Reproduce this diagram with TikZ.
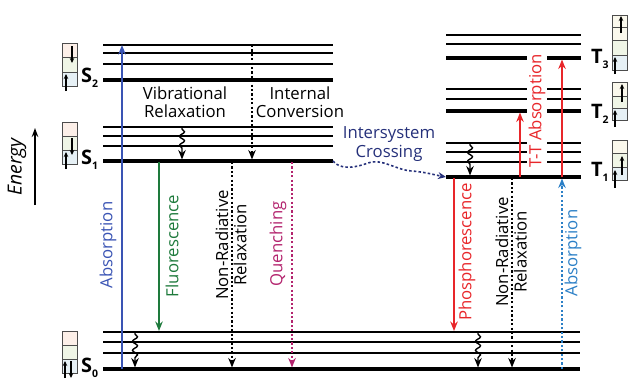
\documentclass[tikz,border=0pt]{standalone}
\usepackage{fontspec}
\setmainfont{Open Sans}
\usetikzlibrary{arrows.meta,decorations.pathmorphing}
\definecolor{absblue}{RGB}{58,84,180}
\definecolor{fgreen}{RGB}{30,122,60}
\definecolor{quench}{RGB}{179,36,110}
\definecolor{pred}{RGB}{232,38,42}
\definecolor{lblue}{RGB}{43,127,198}
\definecolor{isc}{RGB}{37,48,122}
\definecolor{cpink}{RGB}{252,239,232}
\definecolor{cgreen}{RGB}{239,245,230}
\definecolor{cblue}{RGB}{230,240,245}
\definecolor{ccream}{RGB}{250,248,236}
\newcommand\stlabel[2]{{\fontsize{20}{20}\selectfont\bfseries #1}\raisebox{-5bp}{\fontsize{10.5}{10.5}\selectfont\bfseries #2}}
\begin{document}
\begin{tikzpicture}[x=1bp,y=-1bp,
  lvl/.style={line width=1.8bp},
  glvl/.style={line width=3.4bp},
  arr/.style={-{Stealth[length=9.5bp,width=7.5bp]}, line width=1.8bp},
  dotline/.style={dash pattern=on 2.2bp off 2.2bp, line width=2bp},
  wavy/.style={decorate, decoration={snake, amplitude=2.5bp, segment length=9bp, pre length=2bp, post length=8bp}},
  lbl/.style={font=\fontsize{16.8}{18.5}\selectfont, align=center, inner sep=0pt},
  rlbl/.style={lbl, rotate=90},
  cell/.style={draw=black!70, line width=0.8bp},
  spin/.style={-{Stealth[length=5bp,width=4.5bp]}, line width=1.2bp}]
\useasboundingbox (0,0) rectangle (630,378);

% ---- levels ----
\foreach \y in {45,53,64} \draw[lvl] (103,\y) -- (333,\y);
\draw[glvl] (103,80) -- (333,80);
\foreach \y in {127,136,146} \draw[lvl] (103,\y) -- (333,\y);
\draw[glvl] (103,161) -- (333,161);
\foreach \y in {332,342,353} \draw[lvl] (103,\y) -- (580,\y);
\draw[glvl] (103,369) -- (580,369);
\foreach \y in {35,44} \draw[lvl] (446,\y) -- (581,\y);
\draw[glvl] (446,58) -- (581,58);
\foreach \y in {89,99} \draw[lvl] (446,\y) -- (581,\y);
\draw[glvl] (446,111) -- (581,111);
\foreach \y in {143,152,162} \draw[lvl] (446,\y) -- (581,\y);
\draw[glvl] (446,177) -- (581,177);

% ---- state labels ----
\node[anchor=base west, inner sep=0pt] (s2) at (81,82) {\stlabel{S}{2}};
\node[anchor=base west, inner sep=0pt] (s1) at (81,164) {\stlabel{S}{1}};
\node[anchor=base west, inner sep=0pt] (s0) at (81,372) {\stlabel{S}{0}};
\node[anchor=base west, inner sep=0pt] (t3) at (591,63) {\stlabel{T}{3}};
\node[anchor=base west, inner sep=0pt] (t2) at (591,118) {\stlabel{T}{2}};
\node[anchor=base west, inner sep=0pt] (t1) at (591,176) {\stlabel{T}{1}};

% ---- spin boxes left ----
\fill[cpink] (62,43) rectangle (77,57); \fill[cgreen] (62,57) rectangle (77,72); \fill[cblue] (62,72) rectangle (77,86);
\draw[cell] (62,43) rectangle (77,86) (62,57) -- (77,57) (62,72) -- (77,72);
\draw[spin] (72,46) -- (72,63); \draw[spin] (66,91) -- (66,74);
\fill[cpink] (62,122) rectangle (77,136); \fill[cgreen] (62,136) rectangle (77,150); \fill[cblue] (62,150) rectangle (77,164);
\draw[cell] (62,122) rectangle (77,164) (62,136) -- (77,136) (62,150) -- (77,150);
\draw[spin] (72,138) -- (72,155); \draw[spin] (66,169) -- (66,152);
\fill[cpink] (62,331) rectangle (77,345); \fill[cgreen] (62,345) rectangle (77,359); \fill[cblue] (62,359) rectangle (77,373);
\draw[cell] (62,331) rectangle (77,373) (62,345) -- (77,345) (62,359) -- (77,359);
\draw[spin] (65,378) -- (65,361); \draw[spin] (71,361) -- (71,378);

% ---- spin boxes right ----
\fill[ccream] (612,15) rectangle (627,27); \fill[ccream] (612,27) rectangle (627,40); \fill[cgreen] (612,40) rectangle (627,55); \fill[cblue] (612,55) rectangle (627,70);
\draw[cell] (612,15) rectangle (627,70) (612,27) -- (627,27) (612,40) -- (627,40) (612,55) -- (627,55);
\draw[spin] (621,33) -- (621,16); \draw[spin] (615,74) -- (615,57);
\fill[ccream] (612,82) rectangle (627,96); \fill[cgreen] (612,96) rectangle (627,108); \fill[cblue] (612,108) rectangle (627,120);
\draw[cell] (612,82) rectangle (627,120) (612,96) -- (627,96) (612,108) -- (627,108);
\draw[spin] (622,102) -- (622,84); \draw[spin] (615,127) -- (615,110);
\fill[ccream] (612,140) rectangle (627,153); \fill[cgreen] (612,153) rectangle (627,167); \fill[cblue] (612,167) rectangle (627,180);
\draw[cell] (612,140) rectangle (627,180) (612,153) -- (627,153) (612,167) -- (627,167);
\draw[spin] (622,175) -- (622,156); \draw[spin] (615,188) -- (615,170);

% ---- energy axis ----
\coordinate (e0) at (35,205); \coordinate (e1) at (35,128);
\draw[-{Stealth[length=9bp,width=6.5bp]}, line width=1.6bp] (e0) -- (e1);
\node[rlbl, font=\fontsize{19.5}{20}\selectfont\itshape] (en) at (17,167) {Energy};

% ---- labels ----
\node[rlbl, pred, fill=white, inner sep=1.5bp] (ttl) at (537,111) {T-T Absorption};
\node[rlbl, absblue] (absl) at (108,245) {Absorption};
\node[rlbl, fgreen] (fll) at (172,246) {Fluorescence};
\node[rlbl] (nrl1) at (231,245) {Non-Radiative\\Relaxation};
\node[rlbl, quench] (ql) at (278,244) {Quenching};
\node[rlbl, pred] (pl) at (467,252) {Phosphorescence};
\node[rlbl] (nrl2) at (511,252) {Non-Radiative\\Relaxation};
\node[rlbl, lblue] (abs2l) at (573,253) {Absorption};
\node[lbl] (vrl) at (185,102) {Vibrational\\Relaxation};
\node[lbl] (icl) at (300,102) {Internal\\Conversion};
\node[lbl, isc] (iscl) at (389,144) {Intersystem\\Crossing};

% ---- transitions ----
\coordinate (ab0) at (122,369); \coordinate (ab1) at (122,45);
\draw[arr, absblue] (ab0) -- (ab1);
\coordinate (vr0) at (182,127); \coordinate (vr1) at (182,159.5);
\draw[arr, wavy, line width=1.4bp] (vr0) -- (vr1);
\coordinate (ic0) at (252,45); \coordinate (ic1) at (252,159.5);
\draw[arr, dotline] (ic0) -- (ic1);
\coordinate (fl0) at (159,162); \coordinate (fl1) at (159,331);
\draw[arr, fgreen] (fl0) -- (fl1);
\coordinate (nr0) at (232,162); \coordinate (nr1) at (232,367.5);
\draw[arr, dotline] (nr0) -- (nr1);
\coordinate (q0) at (292,162); \coordinate (q1) at (292,367.5);
\draw[arr, dotline, quench] (q0) -- (q1);
\coordinate (w0) at (135,332); \coordinate (w1) at (135,367.5);
\draw[arr, wavy, line width=1.4bp] (w0) -- (w1);
\coordinate (ph0) at (454,178) ; \coordinate (ph1) at (454,331);
\draw[arr, pred] (ph0) -- (ph1);
\coordinate (nr2a) at (512,178); \coordinate (nr2b) at (512,367.5);
\draw[arr, dotline] (nr2a) -- (nr2b);
\coordinate (w2a) at (478,332); \coordinate (w2b) at (478,367.5);
\draw[arr, wavy, line width=1.4bp] (w2a) -- (w2b);
\coordinate (ab2a) at (562,369); \coordinate (ab2b) at (562,178.5);
\draw[arr, dotline, lblue] (ab2a) -- (ab2b);
\coordinate (w3a) at (470,143); \coordinate (w3b) at (470,175.5);
\draw[arr, wavy, line width=1.4bp] (w3a) -- (w3b);
\coordinate (tt1a) at (520,177); \coordinate (tt1b) at (520,112.5);
\draw[arr, pred] (tt1a) -- (tt1b);
\coordinate (tt2a) at (562,177); \coordinate (tt2b) at (562,59.5);
\draw[arr, pred] (tt2a) -- (tt2b);
\coordinate (isc0) at (333,161); \coordinate (isc1) at (446,177);
\draw[isc, dash pattern=on 2.5bp off 2.2bp, line width=1.6bp, -{Stealth[length=8bp,width=7bp]}]
  (isc0) .. controls (340,170) and (355,168) .. (368,163)
  .. controls (383,158) and (395,170) .. (412,171)
  .. controls (425,172) and (435,175) .. (isc1);
\end{tikzpicture}
\end{document}
